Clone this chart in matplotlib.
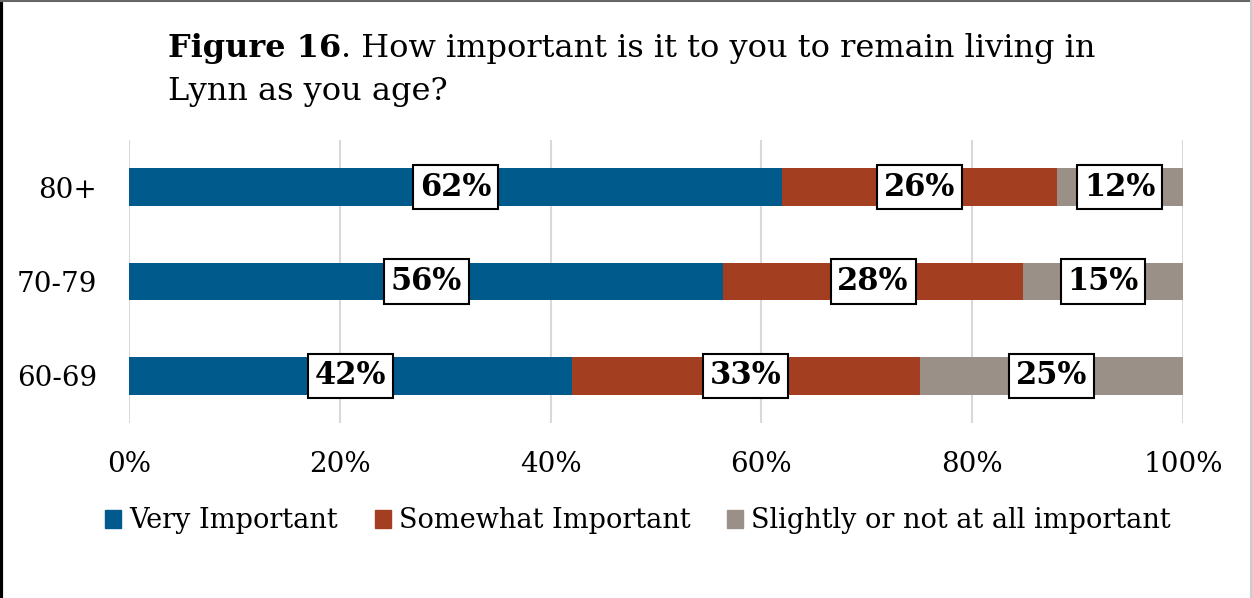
import numpy as np
import matplotlib.pyplot as plt
from matplotlib.lines import Line2D
from matplotlib.patches import Patch

# data
groups = ['60-69', '70-79', '80+']
series = ['Very Important', 'Somewhat Important', 'Slightly or not at all important']
very = [42, 56.4, 62]
somewhat = [33, 28.4, 26]
slightly = [25, 15.2, 12]
colors = ['#005a8c', '#a33f20', '#9a9087']

plt.rcParams['font.family'] = ['DejaVu Serif']

fig = plt.figure(figsize=(12.52, 5.98), dpi=100)
ax = fig.add_axes([129/1252, 175/598, 1054/1252, 283/598])

y = np.arange(len(groups))
left = np.zeros(len(groups))
for vals, col, name in zip([very, somewhat, slightly], colors, series):
    vals = np.array(vals)
    ax.barh(y, vals, left=left, height=0.4, color=col, label=name, zorder=2)
    for yi, l, v in zip(y, left, vals):
        ax.text(l + v/2, yi, f'{v:.0f}%', ha='center', va='center', fontsize=22,
                fontweight='bold', zorder=4,
                bbox=dict(boxstyle='square,pad=0.22', fc='white', ec='black', lw=1.5))
    left += vals

ax.set_xlim(0, 100)
ax.set_ylim(-0.5, 2.5)
ax.set_yticks(y)
ax.set_yticklabels(groups, fontsize=20)
ax.set_xticks(np.arange(0, 101, 20))
ax.set_xticklabels([f'{t}%' for t in range(0, 101, 20)], fontsize=20)
ax.tick_params(length=0)
ax.tick_params(axis='x', pad=20)
ax.tick_params(axis='y', pad=23)
ax.grid(axis='x', color='#d9d9d9', lw=1.5, zorder=0)
for s in ax.spines.values():
    s.set_visible(False)

handles = [Patch(color=c) for c in colors]
fig.legend(handles, series, loc='center', bbox_to_anchor=(638/1252, 1 - 521/598), ncol=3,
           frameon=False, fontsize=19.5, handlelength=0.6, handleheight=0.6,
           handletextpad=0.3, columnspacing=1.35)

# title
t1 = fig.text(168/1252, 1 - 57/598, 'Figure 16', fontsize=23, fontweight='bold',
              ha='left', va='baseline')
ax.annotate('. How important is it to you to remain living in', xy=(1, 0), xycoords=t1,
            fontsize=23, ha='left', va='bottom', annotation_clip=False)
fig.text(168/1252, 1 - 100/598, 'Lynn as you age?', fontsize=23, ha='left', va='baseline')

# frame
fig.add_artist(Line2D([0.001, 0.001], [0, 1], transform=fig.transFigure, color='black', lw=3))
fig.add_artist(Line2D([0, 1], [0.999, 0.999], transform=fig.transFigure, color='#666666', lw=1.5))
fig.add_artist(Line2D([0.999, 0.999], [0, 1], transform=fig.transFigure, color='#cccccc', lw=1.5))

fig.savefig('out.png', dpi=100)
